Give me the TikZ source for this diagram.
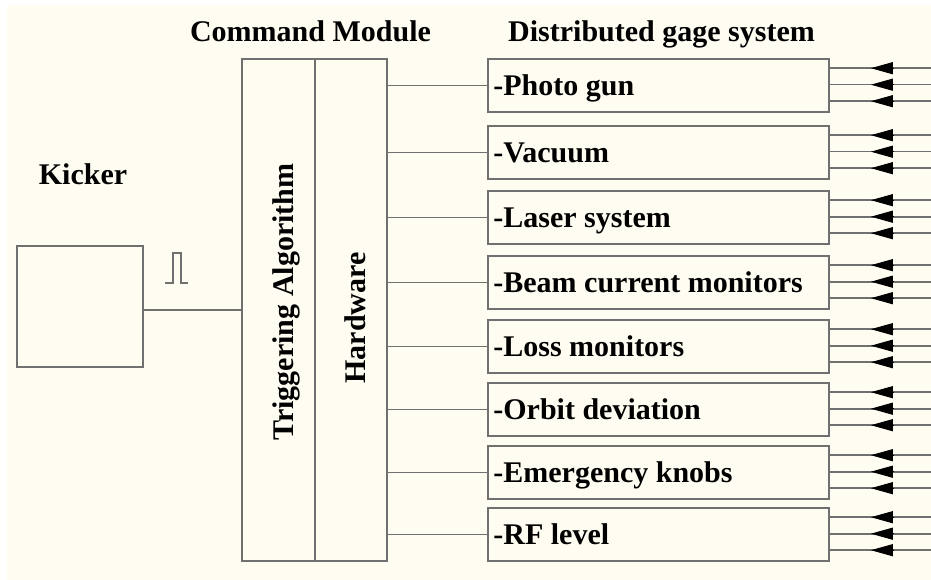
\documentclass[tikz,border=0pt]{standalone}
\usepackage{fontspec}
\setmainfont{Liberation Serif}
\usetikzlibrary{positioning, arrows.meta, calc}
\definecolor{PaperCream}{RGB}{255,253,242}
\definecolor{LineGrey}{RGB}{112,112,112}

\begin{document}
\begin{tikzpicture}[x=1pt, y=-1pt,
    box/.style={draw=LineGrey, line width=1.6pt, inner sep=0pt, fill=PaperCream},
    label/.style={font=\fontsize{30}{33}\selectfont\bfseries, inner sep=0pt},
    wire/.style={draw=LineGrey, line width=1.6pt}]

    % Paper
    \fill[white] (0,0) rectangle (931,580);
    \fill[PaperCream] (7,5) rectangle (931,580);
    \useasboundingbox (0,0) rectangle (931,580);

    % Kicker
    \node[box, minimum width=126, minimum height=121] (kicker) at (80,306.5) {};
    \node[label, anchor=base] at ($(kicker.north)+(3,-61)$) {Kicker};
    \draw[wire, line width=1.2pt] (165,283) -- (173,283) -- (173,253) -- (181,253) -- (181,283) -- (188,283);

    % Command module
    \node[box, minimum width=73, minimum height=502] (trig) at (278.5,310) {};
    \node[box, minimum width=72, minimum height=502] (hw) at (351,310) {};
    \node[label, anchor=base] at ($(trig.north west)!0.5!(hw.north east)+(-4,-17)$) {Command Module};
    \node[label, anchor=base, rotate=90] at (293,302) {Triggering Algorithm};
    \node[label, anchor=base, rotate=90] at (365,318) {Hardware};

    \coordinate (kout) at ($(kicker.east)+(0,3.5)$);
    \draw[wire] (kout) -- (kout -| trig.west);

    % Distributed gage system
    \foreach \name/\ytop/\txt in {photo/59/-Photo gun, vacuum/126/-Vacuum, laser/191/-Laser system,
        beam/256/-Beam current monitors, loss/320/-Loss monitors, orbit/383/-Orbit deviation,
        knobs/446/-Emergency knobs, rf/508/-RF level} {
      \node[box, minimum width=341, minimum height=53] (\name) at (658.5,\ytop+26.5) {};
      \node[label, anchor=base west] at ($(\name.south west)+(6,-17)$) {\txt};
      \draw[wire] (hw.east |- \name.west) -- (\name.west);
      \foreach \dy in {10,26.5,43} {
        \draw[wire] ($(\name.north east)+(0,\dy)$) -- ++(103,0);
        \draw[black, line width=1pt, -{Triangle[length=22pt,width=12pt]}] ($(\name.north east)+(64,\dy)$) -- ++(-23,0);
      }
    }
    \node[label, anchor=base] at ($(photo.north)+(3,-17)$) {Distributed gage system};
\end{tikzpicture}
\end{document}
